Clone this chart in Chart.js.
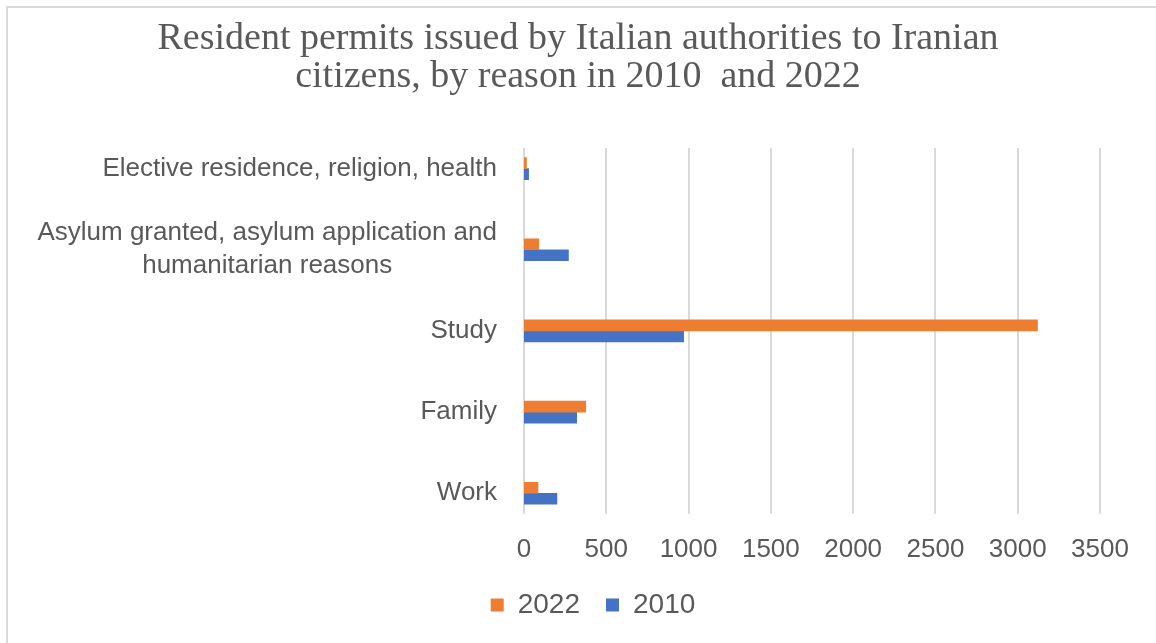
<!DOCTYPE html>
<html>
<head>
<meta charset="utf-8">
<script src="https://cdn.jsdelivr.net/npm/chart.js@4.4.1/dist/chart.umd.min.js"></script>
<style>
  html, body { margin: 0; padding: 0; background: #fff; }
  #myBarChart { display: block; }
</style>
</head>
<body>
<canvas id="myBarChart" width="1156" height="643"></canvas>
<script>
// du lieu doc tu hinh
var categories = [
  'Elective residence, religion, health',
  ['Asylum granted, asylum application and', 'humanitarian reasons'],
  'Study',
  'Family',
  'Work'
];
var values2022 = [15, 90, 3120, 375, 85];
var values2010 = [28, 270, 970, 320, 200];
var seriesNames = ['2022', '2010'];
var xMin = 0;
var xMax = 3500;
var xStep = 500;
var titleLines = ['Resident permits issued by Italian authorities to Iranian', 'citizens, by reason in 2010  and 2022'];

var _myChart = null;
var textColor = '#595959';
var gridColor = '#d9d9d9';

// khung vien ngoai + nen trang
var framePlugin = {
  id: 'frame',
  beforeDraw: function (chart) {
    var ctx = chart.ctx;
    ctx.save();
    ctx.fillStyle = '#fff';
    ctx.fillRect(0, 0, chart.width, chart.height);
    ctx.strokeStyle = gridColor;
    ctx.lineWidth = 2;
    ctx.strokeRect(7, 7, chart.width + 20, chart.height + 20);
    ctx.restore();
  }
};

// day chu thich sang phai mot chut nhu hinh goc
var legendShiftPlugin = {
  id: 'legendShift',
  afterLayout: function (chart) {
    if (chart.legend) {
      chart.legend.left += 15;
      chart.legend.right += 15;
    }
  }
};

// duong luoi doc, ngan hon vung ve mot chut
var gridPlugin = {
  id: 'shortGrid',
  beforeDatasetsDraw: function (chart) {
    var ctx = chart.ctx;
    var x = chart.scales.x;
    var area = chart.chartArea;
    ctx.save();
    ctx.strokeStyle = gridColor;
    ctx.lineWidth = 2;
    x.ticks.forEach(function (t) {
      var px = Math.round(x.getPixelForValue(t.value));
      ctx.beginPath();
      ctx.moveTo(px, area.top + 20);
      ctx.lineTo(px, area.bottom - 20);
      ctx.stroke();
    });
    ctx.restore();
  }
};

// nhan truc y: can phai, dong nhieu dong thi can giua
var yLabelPlugin = {
  id: 'yLabels',
  afterDraw: function (chart) {
    var ctx = chart.ctx;
    var y = chart.scales.y;
    var right = chart.chartArea.left - 27;
    var lineH = 33;
    ctx.save();
    ctx.font = '26px "Liberation Sans", Arial, sans-serif';
    ctx.fillStyle = textColor;
    ctx.textBaseline = 'middle';
    categories.forEach(function (label, i) {
      var cy = y.getPixelForValue(i);
      if (Array.isArray(label)) {
        var maxW = 0;
        label.forEach(function (l) { maxW = Math.max(maxW, ctx.measureText(l).width); });
        ctx.textAlign = 'center';
        var startY = cy - (label.length - 1) * lineH / 2;
        label.forEach(function (l, k) {
          ctx.fillText(l, right - maxW / 2, startY + k * lineH);
        });
      } else {
        ctx.textAlign = 'right';
        ctx.fillText(label, right, cy);
      }
    });
    ctx.restore();
  }
};

function buildBarChart() {
  var data = {
    labels: categories,
    datasets: [
      {
        label: seriesNames[0],
        backgroundColor: '#ed7d31',
        data: values2022,
        barThickness: 11
      },
      {
        label: seriesNames[1],
        backgroundColor: '#4472c4',
        data: values2010,
        barThickness: 11
      }
    ]
  };

  var options = {
    indexAxis: 'y',
    responsive: false,
    animation: false,
    devicePixelRatio: 1,
    layout: {
      padding: { left: 56, right: 56, top: 0, bottom: 14 }
    },
    scales: {
      x: {
        min: xMin,
        max: xMax,
        grid: { display: false, drawTicks: false },
        border: { display: false },
        ticks: {
          stepSize: xStep,
          padding: 0,
          color: textColor,
          font: { family: '"Liberation Sans", Arial, sans-serif', size: 26 },
          callback: function (value) {
            return String(value);
          }
        }
      },
      y: {
        grid: { display: false, drawTicks: false },
        border: { display: false },
        ticks: { display: false },
        afterFit: function (scale) {
          scale.width = 524 - 56;
        }
      }
    },
    plugins: {
      title: {
        display: true,
        text: titleLines,
        color: textColor,
        font: { family: '"Liberation Serif", "Times New Roman", serif', size: 38, weight: 'normal', lineHeight: 1.0 },
        padding: { top: 20, bottom: 32 }
      },
      legend: {
        position: 'bottom',
        labels: {
          color: textColor,
          boxWidth: 13,
          boxHeight: 13,
          padding: 26,
          font: { family: '"Liberation Sans", Arial, sans-serif', size: 28 }
        }
      },
      tooltip: { enabled: false }
    }
  };

  var ctx = document.getElementById('myBarChart').getContext('2d');
  _myChart = new Chart(ctx, {
    type: 'bar',
    data: data,
    options: options,
    plugins: [framePlugin, legendShiftPlugin, gridPlugin, yLabelPlugin]
  });
}

buildBarChart();
</script>
</body>
</html>
